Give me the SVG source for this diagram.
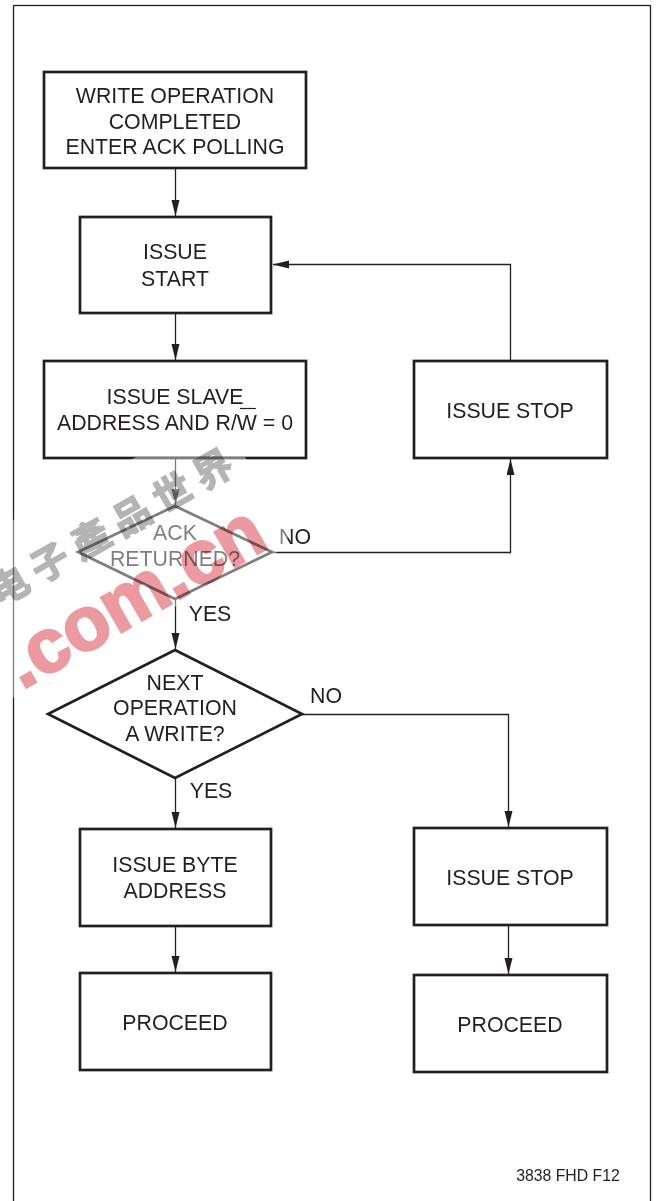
<svg xmlns="http://www.w3.org/2000/svg" width="658" height="1201" viewBox="0 0 658 1201">
<defs><marker id="a" markerWidth="17" markerHeight="10" refX="16" refY="4" orient="auto" markerUnits="userSpaceOnUse"><path d="M0 0L16 4L0 8Z" fill="#231f20"/></marker></defs>
<style>
.n{fill:#fff;stroke:#231f20;stroke-width:2.7}
.c{fill:none;stroke:#231f20;stroke-width:1.3;marker-end:url(#a)}
text{font-family:"Liberation Sans",Arial,sans-serif;font-size:21.3px;fill:#231f20;text-anchor:middle}
</style>
<rect width="658" height="1201" fill="#fff"/>
<rect x="13.500" y="5.500" width="637" height="1197" fill="none" stroke="#231f20" stroke-width="1.3"/>
<g id="connectors">
<path class="c" d="M175.500 168V216"/><path class="c" d="M175.500 313V360"/><path class="c" d="M175.500 458V505"/>
<path class="c" d="M175.500 599V649"/><path class="c" d="M175.500 778V828"/><path class="c" d="M175.500 926V972"/>
<path class="c" d="M272 552.500H510.500V459"/><path class="c" d="M510.500 361V264.500H273"/>
<path class="c" d="M302 714.500H508.500V827"/><path class="c" d="M508.500 925V974"/>
</g>
<g id="n1"><rect class="n" x="44" y="72" width="262" height="96"/><text x="175" y="103">WRITE OPERATION</text><text x="175" y="129">COMPLETED</text><text x="175" y="154">ENTER ACK POLLING</text></g>
<g id="n2"><rect class="n" x="80" y="217" width="191" height="96"/><text x="175" y="259">ISSUE</text><text x="175" y="286">START</text></g>
<g id="n3"><rect class="n" x="44" y="361" width="262" height="97"/><text x="175" y="404">ISSUE SLAVE</text><text x="175" y="430">ADDRESS AND R/W = 0</text><path d="M240 408.500H256" fill="none" stroke="#231f20" stroke-width="1.200"/></g>
<g id="n4"><rect class="n" x="414" y="361" width="193" height="97"/><text x="510" y="418">ISSUE STOP</text></g>
<g id="n5"><path class="n" d="M175 506L272 552L175 599L78 552Z"/><text x="175" y="540">ACK</text><text x="175" y="566">RETURNED?</text></g>
<g id="n6"><path class="n" d="M175 650L302 714L175 778L48 714Z"/><text x="175" y="690">NEXT</text><text x="175" y="715">OPERATION</text><text x="175" y="741">A WRITE?</text></g>
<g id="n7"><rect class="n" x="80" y="829" width="191" height="97"/><text x="175" y="872">ISSUE BYTE</text><text x="175" y="898">ADDRESS</text></g>
<g id="n8"><rect class="n" x="414" y="828" width="193" height="97"/><text x="510" y="885">ISSUE STOP</text></g>
<g id="n9"><rect class="n" x="80" y="973" width="191" height="97"/><text x="175" y="1030">PROCEED</text></g>
<g id="n10"><rect class="n" x="414" y="975" width="193" height="97"/><text x="510" y="1032">PROCEED</text></g>
<text x="295" y="544">NO</text><text x="210" y="621">YES</text><text x="326" y="703">NO</text><text x="211" y="798">YES</text>
<text x="568" y="1181" style="font-size:15.800px">3838 FHD F12</text>
<g id="watermark">
<path d="M0 527L136 457L245 457L290 530L285 546L272 556L175 607L60 672L0 705Z" fill="#fff" opacity=".42"/>
<text transform="translate(112 528) rotate(-29.700)" x="-118 -71 -24 23 70 117" y="13" style="font-family:'Noto Sans CJK SC',sans-serif;font-size:38px;font-weight:bold;fill:#b4b4b4;stroke:#b4b4b4;stroke-width:1.500px;mix-blend-mode:multiply">电子產品世界</text>
<text transform="translate(22 690) rotate(-30)" style="font-size:76px;font-weight:bold;fill:#eb9a9f;stroke:#eb9a9f;stroke-width:2.500px;text-anchor:start;mix-blend-mode:multiply">.com.cn</text>
</g>
</svg>
